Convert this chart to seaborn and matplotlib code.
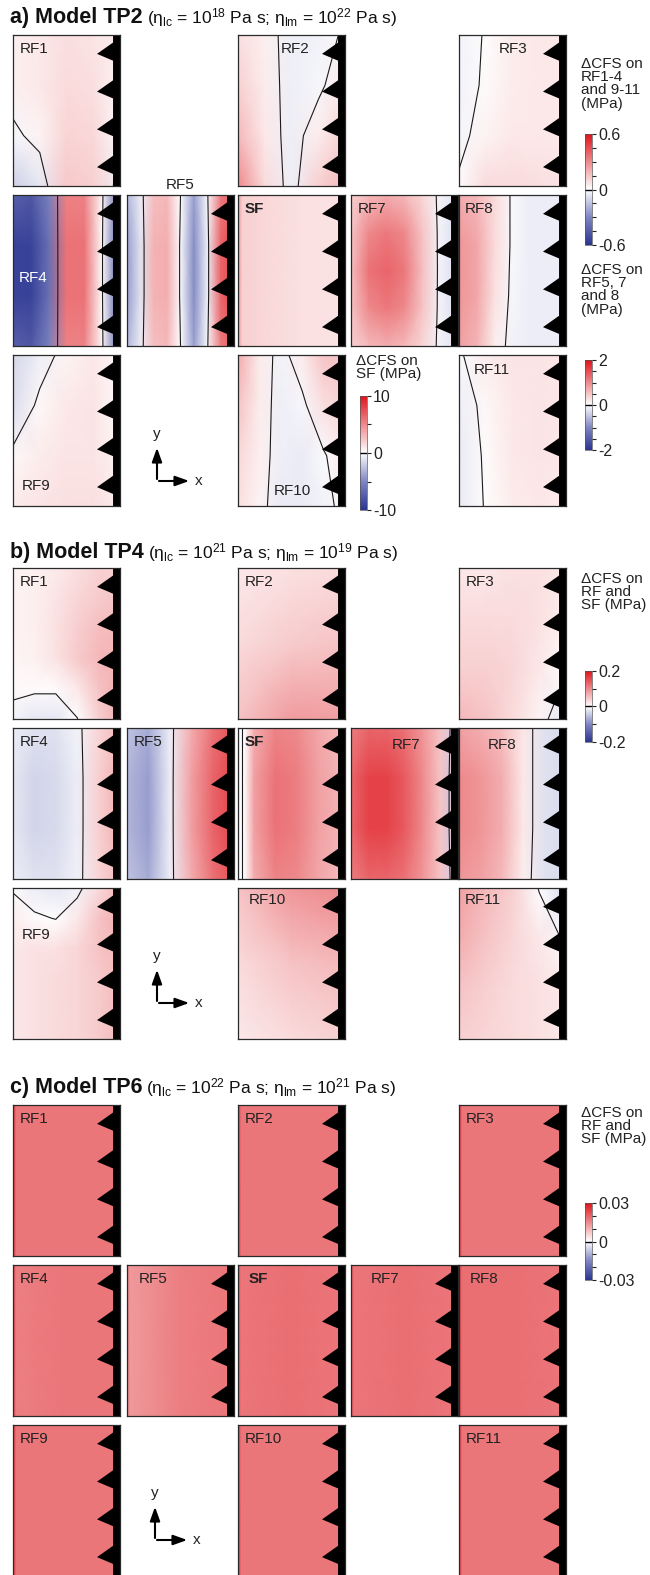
import numpy as np
import matplotlib
matplotlib.use("Agg")
import matplotlib.pyplot as plt
import seaborn as sns
from matplotlib.colors import Normalize
from matplotlib.cm import ScalarMappable
from matplotlib.patches import Polygon

sns.set_theme(style="white")
plt.rcParams['font.family'] = ['Liberation Sans', 'DejaVu Sans']
plt.rcParams['mathtext.fontset'] = 'custom'
plt.rcParams['mathtext.rm'] = 'Liberation Sans'
plt.rcParams['mathtext.it'] = 'Liberation Sans:italic'
plt.rcParams['mathtext.bf'] = 'Liberation Sans:bold'
plt.rcParams['axes.unicode_minus'] = False

# ---------------- data (ΔCFS in MPa, rows top->bottom, columns left->right) ----------------
panel_names = ["RF1", "RF2", "RF3", "RF4", "RF5", "SF", "RF7", "RF8", "RF9", "RF10", "RF11"]

# (a) Model TP2
a_RF1 = [[0.04, 0.06, 0.08, 0.07, 0.05],
         [0.04, 0.06, 0.09, 0.08, 0.03],
         [-0.02, 0.03, 0.11, 0.10, -0.01],
         [-0.12, -0.06, 0.14, 0.12, -0.04]]
a_RF2 = [[0.08, 0.04, -0.04, -0.03, 0.01],
         [0.12, 0.05, -0.04, -0.02, 0.06],
         [0.18, 0.06, -0.04, 0.05, 0.12],
         [0.30, 0.09, -0.04, 0.12, 0.18]]
a_RF3 = [[-0.03, 0.005, 0.05, 0.06, 0.06],
         [-0.03, 0.01, 0.05, 0.06, 0.06],
         [-0.02, 0.03, 0.06, 0.06, 0.06],
         [0.01, 0.09, 0.09, 0.08, 0.07]]
a_RF4 = [[-0.44, -0.47, -0.32, 0.32, 0.32, 0.02, -0.45],
         [-0.55, -0.55, -0.38, 0.36, 0.36, 0.01, -0.50],
         [-0.55, -0.55, -0.38, 0.36, 0.36, 0.01, -0.50],
         [-0.44, -0.47, -0.32, 0.32, 0.32, 0.02, -0.45]]
a_RF5 = [[-0.6, -0.15, 0.55, 0.6, 0.0, -0.8, -0.05, 1.1, 1.4],
         [-0.8, -0.25, 0.65, 0.7, -0.05, -0.95, -0.15, 1.3, 1.6],
         [-0.8, -0.25, 0.65, 0.7, -0.05, -0.95, -0.15, 1.3, 1.6],
         [-0.6, -0.15, 0.55, 0.6, 0.0, -0.8, -0.05, 1.1, 1.4]]
a_SF = [[4.5, 2.0, 1.6, 1.3, 1.2],
        [4.5, 2.0, 1.6, 1.3, 1.2]]
a_RF7 = [[0.4, 0.6, 0.7, 0.6, 0.35, -0.1, -0.25],
         [0.5, 1.0, 1.15, 1.0, 0.5, -0.1, -0.3],
         [0.55, 1.2, 1.3, 1.15, 0.55, -0.1, -0.3],
         [0.5, 1.0, 1.15, 1.0, 0.5, -0.1, -0.3],
         [0.4, 0.6, 0.7, 0.6, 0.35, -0.1, -0.25]]
a_RF8 = [[0.7, 0.6, 0.3, -0.05, -0.15, -0.15, -0.15],
         [0.9, 0.75, 0.3, -0.05, -0.15, -0.15, -0.15],
         [0.9, 0.75, 0.25, -0.07, -0.15, -0.15, -0.15],
         [0.8, 0.65, 0.15, -0.1, -0.15, -0.15, -0.15]]
a_RF9 = [[-0.10, -0.04, 0.03, 0.06, 0.02],
         [-0.08, 0.02, 0.06, 0.07, 0.01],
         [0.02, 0.05, 0.07, 0.07, 0.03],
         [0.05, 0.07, 0.08, 0.08, 0.05]]
a_RF10 = [[0.22, 0.05, -0.03, 0.05, 0.15, 0.15],
          [0.15, 0.05, -0.04, -0.02, 0.08, 0.12],
          [0.10, 0.04, -0.04, -0.05, -0.01, 0.06],
          [0.08, 0.03, -0.05, -0.05, -0.03, 0.03]]
a_RF11 = [[-0.01, 0.05, 0.07, 0.07, 0.06],
          [-0.04, 0.02, 0.06, 0.07, 0.06],
          [-0.05, 0.01, 0.06, 0.07, 0.06],
          [-0.05, 0.005, 0.05, 0.06, 0.05]]

# (b) Model TP4
b_RF1 = [[0.010, 0.012, 0.018, 0.028, 0.038, 0.040],
         [0.010, 0.013, 0.022, 0.035, 0.045, 0.050],
         [0.010, 0.014, 0.026, 0.042, 0.055, 0.060],
         [0.009, 0.012, 0.024, 0.045, 0.060, 0.065],
         [0.006, 0.004, 0.004, 0.020, 0.050, 0.070],
         [-0.010, -0.020, -0.020, -0.001, 0.040, 0.070]]
b_RF2 = [[0.02, 0.025, 0.03],
         [0.03, 0.045, 0.05],
         [0.05, 0.085, 0.08]]
b_RF3 = [[0.020, 0.020, 0.025, 0.025, 0.020],
         [0.030, 0.030, 0.030, 0.025, 0.015],
         [0.040, 0.040, 0.035, 0.020, 0.002],
         [0.060, 0.050, 0.030, 0.010, -0.020]]
b_RF4 = [[-0.015, -0.025, -0.025, -0.010, 0.035, 0.060],
         [-0.020, -0.035, -0.030, -0.015, 0.040, 0.070],
         [-0.020, -0.035, -0.030, -0.015, 0.040, 0.070],
         [-0.015, -0.025, -0.025, -0.012, 0.035, 0.060]]
b_RF5 = [[-0.05, -0.07, -0.015, 0.07, 0.12, 0.15],
         [-0.06, -0.08, -0.015, 0.08, 0.13, 0.16],
         [-0.06, -0.08, -0.015, 0.08, 0.13, 0.16],
         [-0.05, -0.07, -0.015, 0.07, 0.12, 0.15]]
b_SF = [[-0.005, 0.003, 0.07, 0.105, 0.10, 0.075, 0.055],
        [-0.005, 0.003, 0.08, 0.12, 0.11, 0.08, 0.06],
        [-0.005, 0.003, 0.08, 0.12, 0.11, 0.08, 0.06],
        [-0.005, 0.003, 0.07, 0.105, 0.10, 0.075, 0.055]]
b_RF7 = [[0.11, 0.13, 0.13, 0.12, 0.09, 0.05, -0.04],
         [0.13, 0.16, 0.16, 0.14, 0.10, 0.05, -0.05],
         [0.13, 0.16, 0.16, 0.14, 0.10, 0.05, -0.05],
         [0.11, 0.13, 0.13, 0.12, 0.09, 0.05, -0.04]]
b_RF8 = [[0.08, 0.07, 0.055, 0.02, -0.025, -0.03],
         [0.10, 0.09, 0.07, 0.02, -0.025, -0.03],
         [0.10, 0.09, 0.07, 0.02, -0.025, -0.03],
         [0.09, 0.08, 0.06, 0.015, -0.025, -0.03]]
b_RF9 = [[-0.003, -0.015, -0.020, -0.010, 0.030, 0.060],
         [0.015, 0.004, -0.001, 0.020, 0.050, 0.070],
         [0.020, 0.025, 0.025, 0.035, 0.050, 0.060],
         [0.020, 0.025, 0.030, 0.035, 0.045, 0.060],
         [0.020, 0.025, 0.030, 0.035, 0.045, 0.060],
         [0.020, 0.025, 0.030, 0.035, 0.045, 0.060]]
b_RF10 = [[0.05, 0.09, 0.10],
          [0.03, 0.05, 0.06],
          [0.02, 0.03, 0.04]]
b_RF11 = [[0.08, 0.06, 0.04, -0.002, -0.03],
          [0.07, 0.05, 0.035, 0.020, -0.005],
          [0.05, 0.04, 0.030, 0.025, 0.020],
          [0.04, 0.035, 0.030, 0.025, 0.020]]

# (c) Model TP6
c_RF1 = [[0.027, 0.0175, 0.0175, 0.0175], [0.027, 0.0175, 0.0175, 0.0175]]
c_RF2 = [[0.027, 0.0175, 0.0175, 0.0175], [0.027, 0.0175, 0.0175, 0.0175]]
c_RF3 = [[0.027, 0.0175, 0.0175, 0.0175], [0.027, 0.0175, 0.0175, 0.0175]]
c_RF4 = [[0.025, 0.0165, 0.0175, 0.0175], [0.025, 0.0165, 0.0175, 0.0175]]
c_RF5 = [[0.017, 0.013, 0.0165, 0.0175], [0.017, 0.013, 0.0165, 0.0175]]
c_SF = [[0.023, 0.0175, 0.0185, 0.0175], [0.023, 0.0175, 0.0185, 0.0175]]
c_RF7 = [[0.023, 0.0175, 0.0185, 0.0175], [0.023, 0.0175, 0.0185, 0.0175]]
c_RF8 = [[0.025, 0.0185, 0.0185, 0.0175], [0.025, 0.0185, 0.0185, 0.0175]]
c_RF9 = [[0.027, 0.0175, 0.0175, 0.0175], [0.027, 0.0175, 0.0175, 0.0175]]
c_RF10 = [[0.027, 0.0175, 0.0175, 0.0175], [0.027, 0.0175, 0.0175, 0.0175]]
c_RF11 = [[0.027, 0.0175, 0.0175, 0.0175], [0.027, 0.0175, 0.0175, 0.0175]]

# colour-scale limits (MPa)
a_lim_rf = 0.6
a_lim_rf578 = 2.0
a_lim_sf = 10.0
b_lim = 0.2
c_lim = 0.03

titles_bold = ["a) Model TP2", "b) Model TP4", "c) Model TP6"]
eta_lc_exp = ["18", "21", "22"]
eta_lm_exp = ["22", "19", "21"]

# ---------------- layout (pixels) ----------------
W, H = 650, 1575
fig = plt.figure(figsize=(W / 100, H / 100), dpi=100)
fig.patch.set_facecolor("white")

def px_axes(left, top, width, height):
    return fig.add_axes([left / W, 1 - (top + height) / H, width / W, height / H])

bg = fig.add_axes([0, 0, 1, 1])
bg.set_xlim(0, W)
bg.set_ylim(H, 0)
bg.axis("off")

cmap = sns.blend_palette(["#2b3590", "#7f86c2", "#ffffff", "#ee8a8d", "#de141c"], as_cmap=True)

col_left = [13, 127, 238, 351, 459]
PW, PH = 107, 151
row_step = 160
section_top = [35, 568, 1105]
title_base = [23, 558, 1093]
grid_pos = {"RF1": (0, 0), "RF2": (0, 2), "RF3": (0, 4),
            "RF4": (1, 0), "RF5": (1, 1), "SF": (1, 2), "RF7": (1, 3), "RF8": (1, 4),
            "RF9": (2, 0), "RF10": (2, 2), "RF11": (2, 4)}
TOOTH_TIPS = [0.125, 0.375, 0.625, 0.875]

c_nodes = [0.0, 0.03, 0.5, 1.0]
custom_nodes = {("a", "SF"): [0.0, 0.04, 0.3, 0.6, 1.0],
                ("b", "SF"): [0.0, 0.06, 0.15, 0.35, 0.55, 0.75, 1.0]}
for nm in panel_names:
    custom_nodes[("c", nm)] = c_nodes

section_data = {
    "a": {"RF1": a_RF1, "RF2": a_RF2, "RF3": a_RF3, "RF4": a_RF4, "RF5": a_RF5, "SF": a_SF,
          "RF7": a_RF7, "RF8": a_RF8, "RF9": a_RF9, "RF10": a_RF10, "RF11": a_RF11},
    "b": {"RF1": b_RF1, "RF2": b_RF2, "RF3": b_RF3, "RF4": b_RF4, "RF5": b_RF5, "SF": b_SF,
          "RF7": b_RF7, "RF8": b_RF8, "RF9": b_RF9, "RF10": b_RF10, "RF11": b_RF11},
    "c": {"RF1": c_RF1, "RF2": c_RF2, "RF3": c_RF3, "RF4": c_RF4, "RF5": c_RF5, "SF": c_SF,
          "RF7": c_RF7, "RF8": c_RF8, "RF9": c_RF9, "RF10": c_RF10, "RF11": c_RF11},
}

def panel_lim(sec, nm):
    if sec == "a":
        if nm == "SF":
            return a_lim_sf
        if nm in ("RF5", "RF7", "RF8"):
            return a_lim_rf578
        return a_lim_rf
    return b_lim if sec == "b" else c_lim

TXT = "#222222"
default_lab = (0.06, 0.09, "left", TXT)
label_pos = {
    "a": {"RF2": (0.40, 0.09, "left", TXT), "RF3": (0.37, 0.09, "left", TXT),
          "RF4": (0.05, 0.55, "left", "white"), "RF5": (0.5, -0.065, "center", TXT),
          "RF9": (0.08, 0.87, "left", TXT), "RF10": (0.33, 0.9, "left", TXT),
          "RF11": (0.14, 0.1, "left", TXT), "RF8": (0.05, 0.09, "left", TXT)},
    "b": {"RF7": (0.38, 0.11, "left", TXT), "RF8": (0.27, 0.11, "left", TXT),
          "RF9": (0.08, 0.31, "left", TXT), "RF10": (0.1, 0.08, "left", TXT),
          "RF11": (0.05, 0.08, "left", TXT)},
    "c": {"RF5": (0.11, 0.09, "left", TXT), "RF7": (0.18, 0.09, "left", TXT),
          "RF8": (0.1, 0.09, "left", TXT), "SF": (0.1, 0.09, "left", TXT)},
}

def draw_panel(sec, nm):
    r, c = grid_pos[nm]
    top = section_top["abc".index(sec)] + r * row_step
    ax = px_axes(col_left[c], top, PW, PH)
    C = np.asarray(section_data[sec][nm], float)
    nr, nc = C.shape
    xs = np.asarray(custom_nodes.get((sec, nm), np.linspace(0, 1, nc)), float)
    ys = np.linspace(0, 1, nr)
    X, Y = np.meshgrid(xs, ys)
    lim = panel_lim(sec, nm)
    ax.pcolormesh(X, Y, C, shading="gouraud", cmap=cmap, vmin=-lim, vmax=lim)
    if C.min() < 0 < C.max():
        ax.contour(X, Y, C, levels=[0], colors="k", linewidths=0.8)
    ax.set_xlim(0, 1)
    ax.set_ylim(1, 0)
    verts = [(1.0, 0.0), (0.935, 0.0)]
    for ty in TOOTH_TIPS:
        verts += [(0.935, ty - 0.075), (0.785, ty), (0.935, ty + 0.045)]
    verts += [(0.935, 1.0), (1.0, 1.0)]
    ax.add_patch(Polygon(verts, closed=True, facecolor="black", edgecolor="none", zorder=5))
    ax.set_xticks([])
    ax.set_yticks([])
    for s in ax.spines.values():
        s.set_linewidth(0.9)
        s.set_color("#2a2a2a")
        s.set_zorder(6)
    lx, ly, ha, col = label_pos[sec].get(nm, default_lab)
    ax.text(lx, ly, nm, ha=ha, va="center", fontsize=11, color=col,
            fontweight="bold" if nm == "SF" else "normal", zorder=7, clip_on=False)

def draw_cbar(left, top, height, lim, minor_step, labels):
    cax = px_axes(left, top, 7, height)
    sm = ScalarMappable(norm=Normalize(-lim, lim), cmap=cmap)
    cb = fig.colorbar(sm, cax=cax, orientation="vertical")
    cb.set_ticks([lim, 0, -lim], labels=labels)
    cb.set_ticks(list(np.arange(-lim, lim + minor_step / 2, minor_step)), minor=True)
    cb.ax.tick_params(which="both", right=True, left=False, direction="out", length=3,
                      width=0.8, colors=TXT, labelsize=11.5, pad=1.5)
    cb.ax.axhline(0, color="black", lw=1.0)
    cb.outline.set_linewidth(0.5)
    cb.outline.set_edgecolor("#555555")

def cb_label(x, y, text):
    bg.text(x, y, text, ha="left", va="top", fontsize=11, linespacing=0.93, color=TXT)

# ---------------- draw ----------------
renderer = fig.canvas.get_renderer()
for si, sec in enumerate("abc"):
    t1 = bg.text(10, title_base[si], titles_bold[si], ha="left", va="baseline",
                 fontsize=15.5, fontweight="bold", color="#111111")
    bb = t1.get_window_extent(renderer)
    x_end = bg.transData.inverted().transform((bb.x1, bb.y0))[0]
    rest = ("(η$_{\\mathrm{lc}}$ = 10$^{" + eta_lc_exp[si] + "}$ Pa s; η$_{\\mathrm{lm}}$ = 10$^{"
            + eta_lm_exp[si] + "}$ Pa s)")
    bg.text(x_end + 4, title_base[si], rest, ha="left", va="baseline", fontsize=12.5, color="#111111")
    for nm in panel_names:
        draw_panel(sec, nm)

# colour bars and their titles
cb_label(581, 57, "ΔCFS on\nRF1-4\nand 9-11\n(MPa)")
draw_cbar(585, 134, 111, a_lim_rf, 0.15, ["0.6", "0", "-0.6"])
cb_label(581, 263, "ΔCFS on\nRF5, 7\nand 8\n(MPa)")
draw_cbar(585, 360, 90, a_lim_rf578, 0.5, ["2", "0", "-2"])
cb_label(356, 354, "ΔCFS on\nSF (MPa)")
draw_cbar(360, 396, 114, a_lim_sf, 5.0, ["10", "0", "-10"])
cb_label(581, 572, "ΔCFS on\nRF and\nSF (MPa)")
draw_cbar(585, 671, 71, b_lim, 0.1, ["0.2", "0", "-0.2"])
cb_label(581, 1106, "ΔCFS on\nRF and\nSF (MPa)")
draw_cbar(585, 1203, 77, c_lim, 0.01, ["0.03", "0", "-0.03"])

# x-y orientation symbols
for cx, cy in [(157, 481), (157, 1003), (155, 1540)]:
    bg.annotate("", xy=(cx, cy - 36), xytext=(cx, cy + 0.8),
                arrowprops=dict(arrowstyle="-|>,head_length=0.7,head_width=0.25", color="black", lw=1.5))
    bg.annotate("", xy=(cx + 35, cy), xytext=(cx - 0.8, cy),
                arrowprops=dict(arrowstyle="-|>,head_length=0.7,head_width=0.25", color="black", lw=1.5))
    bg.text(cx, cy - 40, "y", ha="center", va="bottom", fontsize=11, color=TXT)
    bg.text(cx + 38, cy, "x", ha="left", va="center", fontsize=11, color=TXT)

fig.savefig("out.png", dpi=100, facecolor="white")
